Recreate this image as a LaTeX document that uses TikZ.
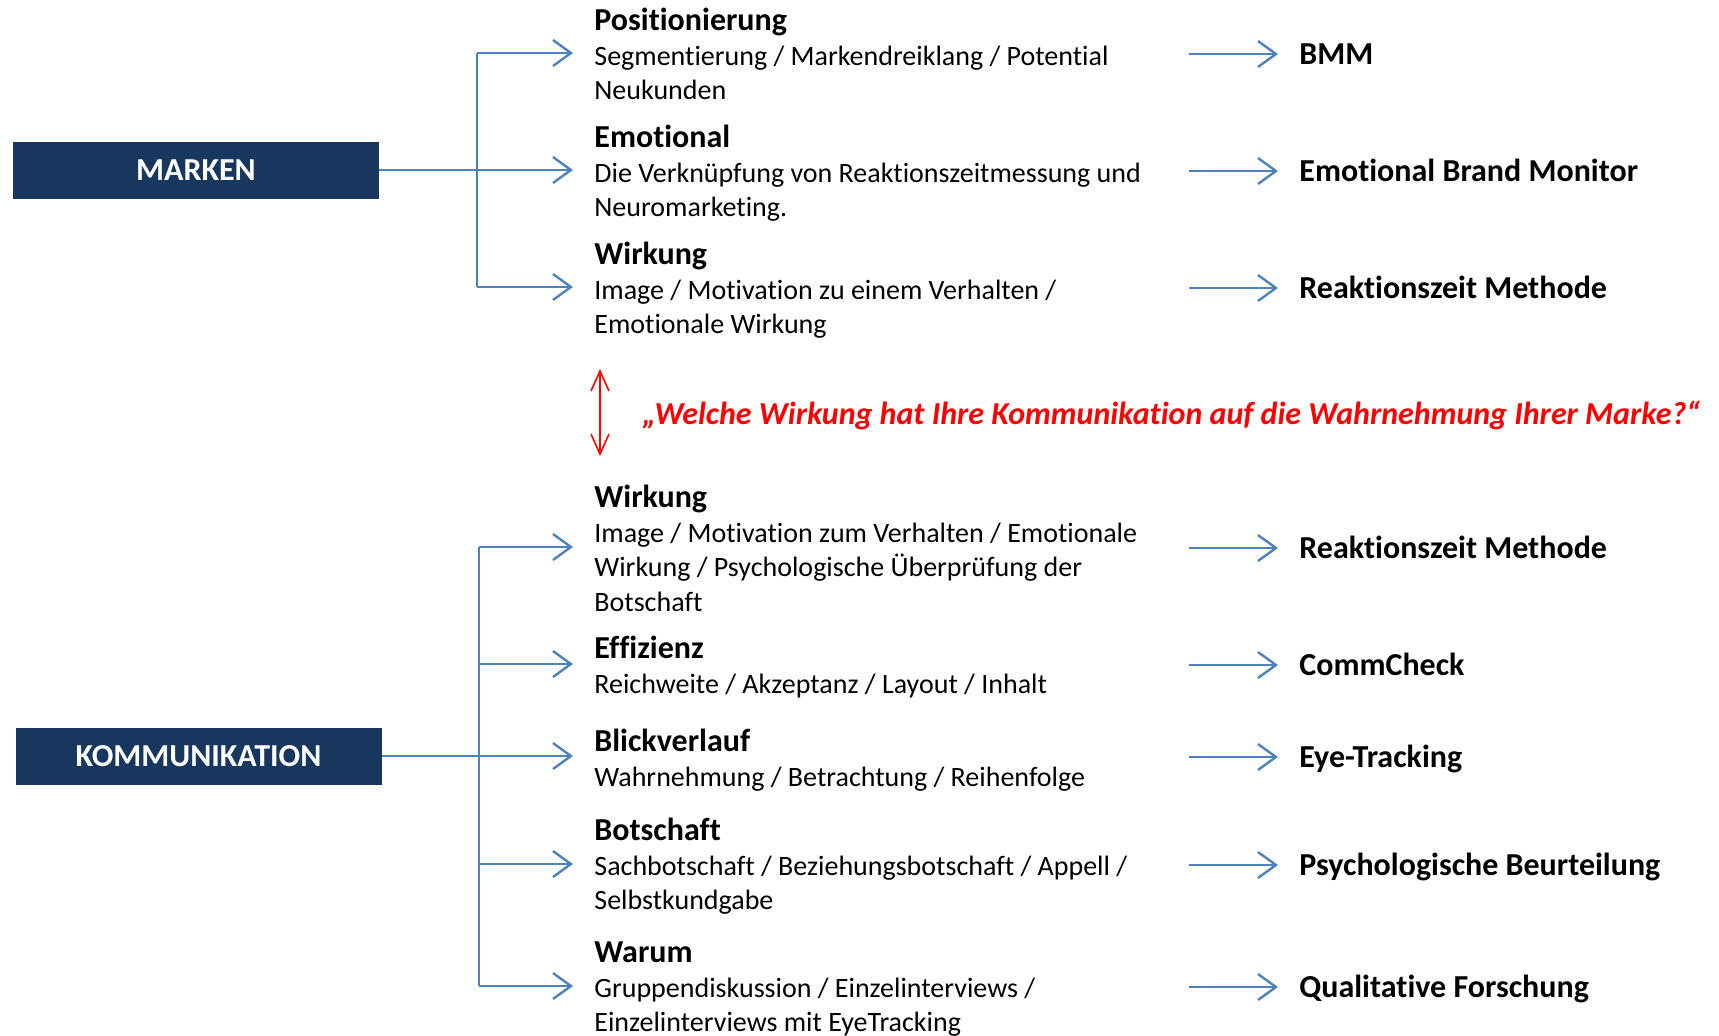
\documentclass[tikz,border=0pt]{standalone}
\usepackage{fontspec}
\setmainfont{Carlito}[Ligatures=NoCommon]
\usetikzlibrary{arrows.meta,positioning}
\definecolor{boxblue}{RGB}{23,55,94}
\definecolor{linkblue}{RGB}{79,129,189}
\newcommand{\topichead}[1]{{\fontsize{16}{17.2}\selectfont\bfseries\strut #1}}

\begin{document}
\begin{tikzpicture}[x=0.5pt, y=-0.5pt,
	area/.style={fill=boxblue, text=white, font=\fontsize{16}{17}\selectfont\bfseries, minimum width=183pt, minimum height=28.5pt, inner sep=0},
	link/.style={draw=linkblue, line width=1.2pt, -{Straight Barb[length=9pt,width=13pt,line width=1.2pt]}},
	trunk/.style={draw=linkblue, line width=1.2pt},
	topic/.style={anchor=north west, inner sep=0, align=left, font=\fontsize{14}{17.2}\selectfont},
	method/.style={anchor=west, inner xsep=10.5pt, inner ysep=0, text height=10.3pt, text depth=0pt, font=\fontsize{16}{17}\selectfont\bfseries}]
	\useasboundingbox (0,0) rectangle (1719,1035);
	\node[area] (marken) at (196,170) {MARKEN};
	\node[area] (komm) at (198.5,756) {KOMMUNIKATION};

	\node[topic] (pos) at (594,6.5) {\topichead{Positionierung}\\Segmentierung / Markendreiklang / Potential\\Neukunden};
	\node[topic] (emo) at (594,123.5) {\topichead{Emotional}\\Die Verknüpfung von Reaktionszeitmessung und\\Neuromarketing.};
	\node[topic] (wirk) at (594,240.5) {\topichead{Wirkung}\\Image / Motivation zu einem Verhalten /\\Emotionale Wirkung};
	\node[topic] (wirkk) at (594,483.5) {\topichead{Wirkung}\\Image / Motivation zum Verhalten / Emotionale\\Wirkung / Psychologische Überprüfung der\\Botschaft};
	\node[topic] (eff) at (594,634.5) {\topichead{Effizienz}\\Reichweite / Akzeptanz / Layout / Inhalt};
	\node[topic] (blick) at (594,727.5) {\topichead{Blickverlauf}\\Wahrnehmung / Betrachtung / Reihenfolge};
	\node[topic] (bot) at (594,816.5) {\topichead{Botschaft}\\Sachbotschaft / Beziehungsbotschaft / Appell /\\Selbstkundgabe};
	\node[topic] (warum) at (594,938.5) {\topichead{Warum}\\Gruppendiskussion / Einzelinterviews /\\Einzelinterviews mit EyeTracking};

	\node[method] (bmm) at (1278,54) {BMM};
	\node[method] (ebm) at (1278,171) {Emotional Brand Monitor};
	\node[method] (rzm) at (1278,288) {Reaktionszeit Methode};
	\node[method] (rzmk) at (1278,548) {Reaktionszeit Methode};
	\node[method] (comm) at (1278,665) {CommCheck};
	\node[method] (eye) at (1278,757) {Eye-Tracking};
	\node[method] (psy) at (1278,865) {Psychologische Beurteilung};
	\node[method] (qual) at (1278,987) {Qualitative Forschung};

	\coordinate (mt) at (477,53);
	\coordinate (mm) at (477,170);
	\coordinate (mb) at (477,287);
	\draw[trunk] (marken.east) -- (mm);
	\draw[trunk] (mt) -- (mb);
	\draw[link] (mt) -- (573,53);
	\draw[link] (mm) -- (573,170);
	\draw[link] (mb) -- (573,287);

	\coordinate (kt) at (479,547);
	\coordinate (ke) at (479,664);
	\coordinate (km) at (479,756);
	\coordinate (kb) at (479,864);
	\coordinate (kw) at (479,986);
	\draw[trunk] (komm.east) -- (km);
	\draw[trunk] (kt) -- (kw);
	\draw[link] (kt) -- (573,547);
	\draw[link] (ke) -- (573,664);
	\draw[link] (km) -- (573,756);
	\draw[link] (kb) -- (573,864);
	\draw[link] (kw) -- (573,986);

	\draw[link] (1189,54) -- (bmm);
	\draw[link] (1189,171) -- (ebm);
	\draw[link] (1189,288) -- (rzm);
	\draw[link] (1189,548) -- (rzmk);
	\draw[link] (1189,665) -- (comm);
	\draw[link] (1189,757) -- (eye);
	\draw[link] (1189,865) -- (psy);
	\draw[link] (1189,987) -- (qual);

	\coordinate (qtop) at (600,369);
	\coordinate (qbot) at (600,456);
	\draw[red, line width=0.8pt, {Straight Barb[length=10pt,width=9pt,line width=0.8pt]}-{Straight Barb[length=10pt,width=9pt,line width=0.8pt]}] (qtop) -- (qbot);
	\node[anchor=west, inner sep=0, text=red, font=\fontsize{16}{17}\selectfont\bfseries\itshape] (frage) at (642,415) {„Welche Wirkung hat Ihre Kommunikation auf die Wahrnehmung Ihrer Marke?“};
\end{tikzpicture}
\end{document}
